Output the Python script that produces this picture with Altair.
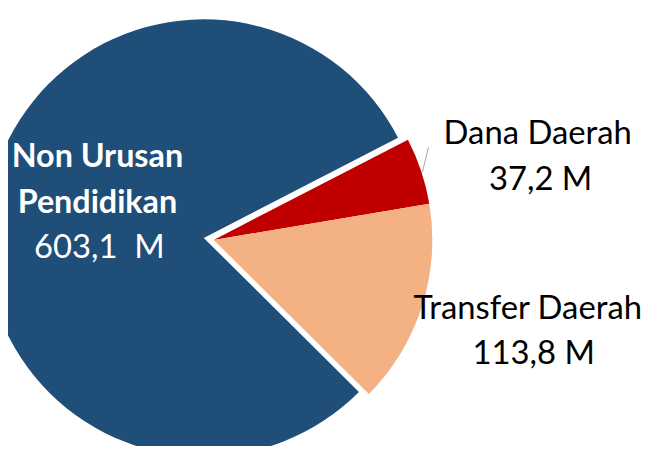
import altair as alt
import pandas as pd
import math

categories = ["Dana Daerah", "Transfer Daerah", "Non Urusan Pendidikan"]
values = [37.2, 113.8, 603.1]
value_labels = ["37,2 M", "113,8 M", "603,1\u00a0 M"]
colors = ["#C00000", "#F4B183", "#1F4E79"]
order = [0, 1, 2]

df = pd.DataFrame({"category": categories, "value": values, "order": order,
                   "vlabel": value_labels})
total = sum(values)
start_angle = math.radians(62.7)

W, H = 640, 438
R = 220

color_scale = alt.Scale(domain=categories, range=colors)
theta_scale = alt.Scale(domain=[0, total], range=[start_angle, start_angle + 2 * math.pi])

base = (
    alt.Chart(df)
    .transform_window(cum="sum(value)", sort=[alt.SortField("order")])
    .transform_calculate(start="datum.cum - datum.value")
)

def arc_layer(filter_expr, cx, cy):
    return (
        base.transform_filter(filter_expr)
        .mark_arc(outerRadius=R, innerRadius=0)
        .encode(
            theta=alt.Theta("start:Q", scale=theta_scale),
            theta2="cum:Q",
            color=alt.Color("category:N", scale=color_scale, legend=None),
            x=alt.value(cx),
            y=alt.value(cy),
        )
    )

# blue slice (exploded slightly to the left), others around main center
blue = arc_layer("datum.category == 'Non Urusan Pendidikan'", 197, 230)
rest = arc_layer("datum.category != 'Non Urusan Pendidikan'", 207, 232)

leader = alt.Chart(pd.DataFrame({"a": [0]})).mark_rule(color="#A6A6A6", strokeWidth=1).encode(
    x=alt.value(423), y=alt.value(139), x2=alt.value(417), y2=alt.value(164)
)

FONT = "Lato"

def text_layer(txt, x, y, color, bold=False, fs=33):
    return alt.Chart(pd.DataFrame({"t": [txt]})).mark_text(
        font=FONT, fontSize=fs, fontWeight="bold" if bold else "normal",
        color=color, align="center", baseline="alphabetic",
    ).encode(text="t:N", x=alt.value(x), y=alt.value(y))

labels = [
    text_layer("Non Urusan", 90, 159, "white", True, 32.5),
    text_layer("Pendidikan", 90, 205, "white", True, 32.5),
    text_layer(value_labels[2], 92, 250, "white"),
    text_layer(categories[0], 533, 135, "black"),
    text_layer(value_labels[0], 536, 182, "black"),
    text_layer(categories[1], 523, 312, "black"),
    text_layer(value_labels[1], 529, 357, "black"),
]

chart = alt.layer(blue, rest, leader, *labels).properties(
    width=W, height=H, padding=0, autosize=alt.AutoSizeParams(type="none")
).configure_view(stroke=None)

chart.save("out.html", embed_options={"renderer": "svg", "actions": False})
